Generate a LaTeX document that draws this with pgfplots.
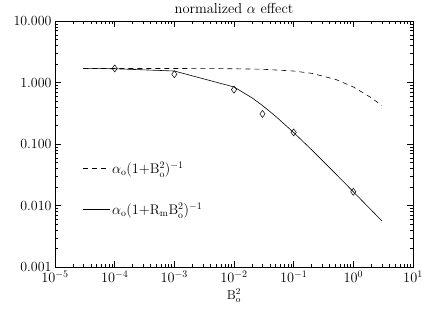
\documentclass[border=0pt]{standalone}
\usepackage{fontspec}
\usepackage{pgfplots}
\pgfplotsset{compat=1.18}
\begin{document}
\begin{tikzpicture}
\begin{axis}[
  scale only axis,
  width=358bp, height=246bp,
  xmode=log, ymode=log,
  xmin=1e-5, xmax=10, ymin=1e-3, ymax=10,
  ytick={0.001,0.01,0.1,1,10},
  yticklabels={0.001,0.010,0.100,1.000,10.000},
  xtick={1e-5,1e-4,1e-3,1e-2,1e-1,1,10},
  tick align=inside,
  major tick length=6bp, minor tick length=3bp,
  tick style={black, line width=0.5pt},
  axis line style={line width=0.8pt},
  ticklabel style={font=\fontsize{14}{16}\selectfont},
  title={\addfontfeatures{LetterSpace=18}normalized $\alpha$ effect},
  title style={font=\fontsize{14.5}{16}\selectfont, yshift=-2bp},
  xlabel={$\mathrm{B}_{\mathrm{o}}^{2}$},
  xlabel style={font=\fontsize{13}{15}\selectfont},
  legend style={at={(0.068,0.445)}, anchor=north west, draw=none, fill=none,
    font=\fontsize{14}{16}\selectfont, row sep=24bp,
    /tikz/every even column/.append style={column sep=14bp}},
  legend cell align=left,
  legend image code/.code={\draw[#1] (0bp,0bp) -- (27bp,0bp);},
]
\addplot[black, line width=0.6pt, dash pattern=on 5bp off 4bp] coordinates {
 (3e-5,1.70) (1e-4,1.70) (1e-3,1.698) (1e-2,1.683) (3e-2,1.650)
 (0.1,1.545) (0.2,1.417) (0.5,1.133) (1,0.850) (2,0.567) (3,0.425)};
\addlegendentry{$\alpha_{\mathrm{o}}(1{+}\mathrm{B}_{\mathrm{o}}^{2})^{-1}$}
\addplot[black, line width=0.6pt] coordinates {
 (3e-5,1.695) (1e-4,1.683) (1e-3,1.545) (1e-2,0.850) (2e-2,0.567)
 (3e-2,0.425) (5e-2,0.283) (0.1,0.1545) (0.2,0.081) (0.5,0.0333)
 (1,0.01683) (2,0.00846) (3,0.00565)};
\addlegendentry{$\alpha_{\mathrm{o}}(1{+}\mathrm{R}_{\mathrm{m}}\mathrm{B}_{\mathrm{o}}^{2})^{-1}$}
\addplot[only marks, mark=diamond, mark size=3.5bp, black, line width=0.5pt, forget plot] coordinates {
 (1e-4,1.70) (1e-3,1.37) (1e-2,0.77) (3e-2,0.31) (0.1,0.155) (1,0.0168)};
\end{axis}
\path (-55bp,-46bp) rectangle (392bp,267bp);
\end{tikzpicture}
\end{document}
